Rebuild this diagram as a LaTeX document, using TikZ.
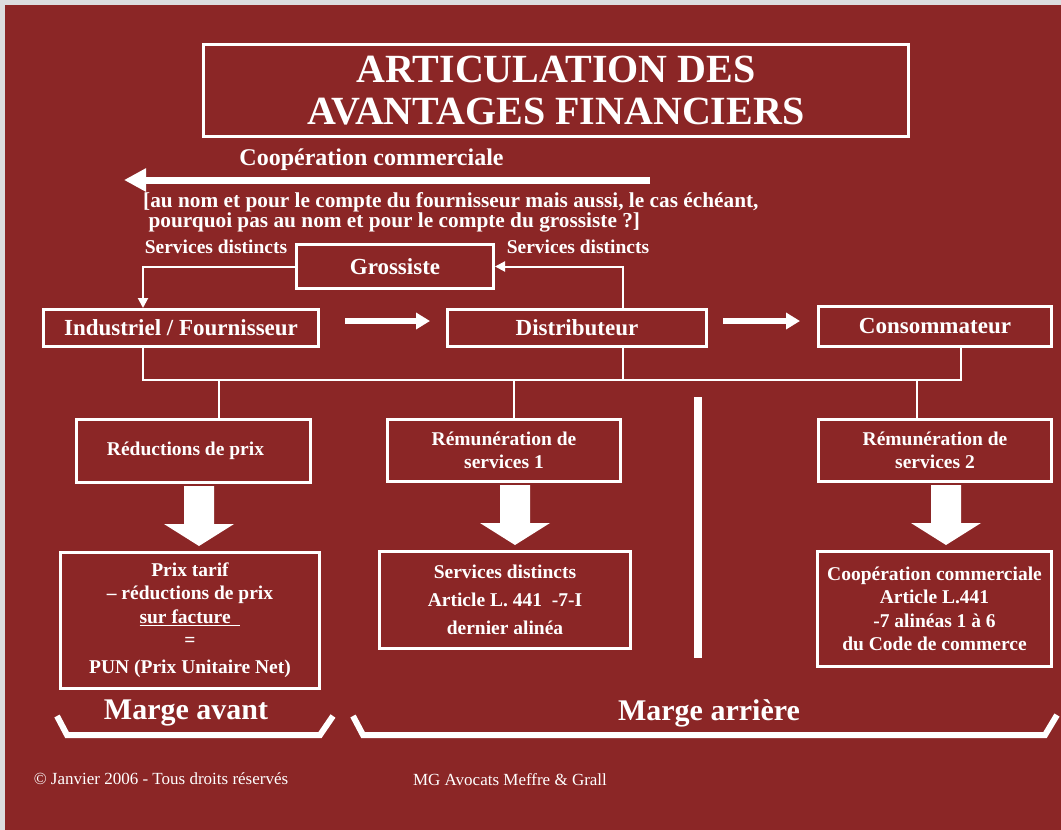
\documentclass[tikz,border=0pt]{standalone}
\usepackage{fontspec}
\setmainfont{Liberation Serif}
\usetikzlibrary{arrows.meta,calc}
\definecolor{bordeaux}{RGB}{139,38,38}
\definecolor{grisfond}{RGB}{220,221,223}
\newcommand{\flechebas}[2]{%
  \fill[white] ($(#1)+(#2-15,2)$) -- ++(30,0) -- ++(0,38) -- ++(20,0)
    -- ++(-35,22) -- ++(-35,-22) -- ++(20,0) -- cycle;}
\begin{document}
\begin{tikzpicture}[x=1pt, y=-1pt,
  every node/.style = {text=white, align=center, inner sep=0pt},
  boite/.style = {draw=white, line width=3pt},
  niveau/.style = {boite, font=\bfseries\fontsize{23}{28}\selectfont},
  petite/.style = {boite, font=\bfseries\fontsize{19.5}{23.5}\selectfont},
  lien/.style = {draw=white, line width=2pt},
  fleche/.style = {lien, -{Triangle[length=10pt,width=10pt]}},
  grosse/.style = {draw=white, line width=6pt, -{Triangle[length=14pt,width=16pt]}}]
  \fill[grisfond] (0,0) rectangle (1061,830);
  \fill[bordeaux] (5,5) rectangle (1061,830);
  \node[boite, minimum width=705pt, minimum height=92pt,
    font=\bfseries\fontsize{40}{42}\selectfont] (titre) at (556,90.5)
    {ARTICULATION DES\\AVANTAGES FINANCIERS};
  \node[font=\bfseries\fontsize{24}{28}\selectfont] (coop) at (371.5,160)
    {Coopération commerciale};
  \coordinate (coop-d) at (650,180);
  \coordinate (coop-g) at (124,180);
  \draw[white, line width=7pt, -{Triangle[length=22pt,width=22pt]}] (coop-d) -- (coop-g);
  \node[anchor=west, align=left, font=\bfseries\fontsize{21.3}{20}\selectfont] (remarque)
    at (143,212) {[au nom et pour le compte du fournisseur mais aussi, le cas échéant,\\\ pourquoi pas au nom et pour le compte du grossiste ?]};
  \node[font=\bfseries\fontsize{19.5}{23}\selectfont] (sd-g) at (216,247) {Services distincts};
  \node[font=\bfseries\fontsize{19.5}{23}\selectfont] (sd-d) at (578,247) {Services distincts};
  \node[niveau, minimum width=197pt, minimum height=44pt] (grossiste) at (395,266.5) {Grossiste};
  \node[niveau, minimum width=275pt, minimum height=37pt] (industriel) at (181,328) {Industriel / Fournisseur};
  \node[niveau, minimum width=259pt, minimum height=37pt] (distributeur) at (577,328) {Distributeur};
  \node[niveau, minimum width=233pt, minimum height=40pt] (consommateur) at (935,326.5) {Consommateur};
  \draw[fleche] (grossiste.west) -| ([xshift=-38pt]industriel.north);
  \draw[fleche] ([xshift=46pt]distributeur.north) |- (grossiste.east);
  \draw[grosse] ([xshift=25pt,yshift=7pt]industriel.east) -- ([xshift=-16pt,yshift=7pt]distributeur.west);
  \draw[grosse] ([xshift=15pt,yshift=7pt]distributeur.east) -- ([xshift=-17pt,yshift=5.5pt]consommateur.west);
  \coordinate (bus-g) at (143,380);
  \coordinate (bus-d) at (961,380);
  \draw[lien] ([xshift=-38pt]industriel.south) |- (bus-d) -- (bus-d |- consommateur.south);
  \draw[lien] ([xshift=46pt]distributeur.south) -- ([xshift=46pt]distributeur.south |- bus-g);
  \node[petite, minimum width=234pt, minimum height=63pt] (reductions) at (193.5,451) {Réductions de prix\hspace*{16pt}};
  \node[petite, minimum width=233pt, minimum height=62pt] (remun1) at (504,450.5) {Rémunération de\\services 1};
  \node[petite, minimum width=233pt, minimum height=62pt] (remun2) at (935,450.5) {Rémunération de\\services 2};
  \draw[lien] ([xshift=25.5pt]reductions.north) -- ([xshift=25.5pt]reductions.north |- bus-g);
  \draw[lien] ([xshift=10pt]remun1.north) -- ([xshift=10pt]remun1.north |- bus-g);
  \draw[lien] ([xshift=-18pt]remun2.north) -- ([xshift=-18pt]remun2.north |- bus-g);
  \flechebas{reductions.south}{5.5}
  \flechebas{remun1.south}{11}
  \flechebas{remun2.south}{11}
  \draw[white, line width=8pt] (697.5,397) -- (697.5,658);
  \node[petite, minimum width=259pt, minimum height=136pt] (prixtarif) at (190,620)
    {Prix tarif\\– réductions de prix\\\underline{sur facture\ \ }\\=\\[3pt]PUN (Prix Unitaire Net)};
  \node[petite, minimum width=251pt, minimum height=97pt,
    font=\bfseries\fontsize{19.5}{28}\selectfont] (articlesd) at (505,600)
    {Services distincts\\Article L. 441~~-7-I\\dernier alinéa};
  \node[petite, minimum width=234pt, minimum height=115pt] (articlecc) at (934.5,609)
    {Coopération commerciale\\Article L.441\\-7 alinéas 1 à 6\\du Code de commerce};
  \draw[white, line width=6pt] (57,716) -- (67,735) -- (320,735) -- (333,716);
  \draw[white, line width=6pt] (353,716) -- (363,735) -- (1045,735) -- (1057,715);
  \node[font=\bfseries\fontsize{30}{34}\selectfont] (avant) at (186,713) {Marge avant};
  \node[font=\bfseries\fontsize{30}{34}\selectfont] (arriere) at (709,713) {Marge arrière};
  \node[font=\fontsize{17}{20}\selectfont] (droits) at (161,779) {© Janvier 2006 - Tous droits réservés};
  \node[font=\fontsize{17}{20}\selectfont] (cabinet) at (510,780) {MG Avocats Meffre \& Grall};
\end{tikzpicture}
\end{document}
